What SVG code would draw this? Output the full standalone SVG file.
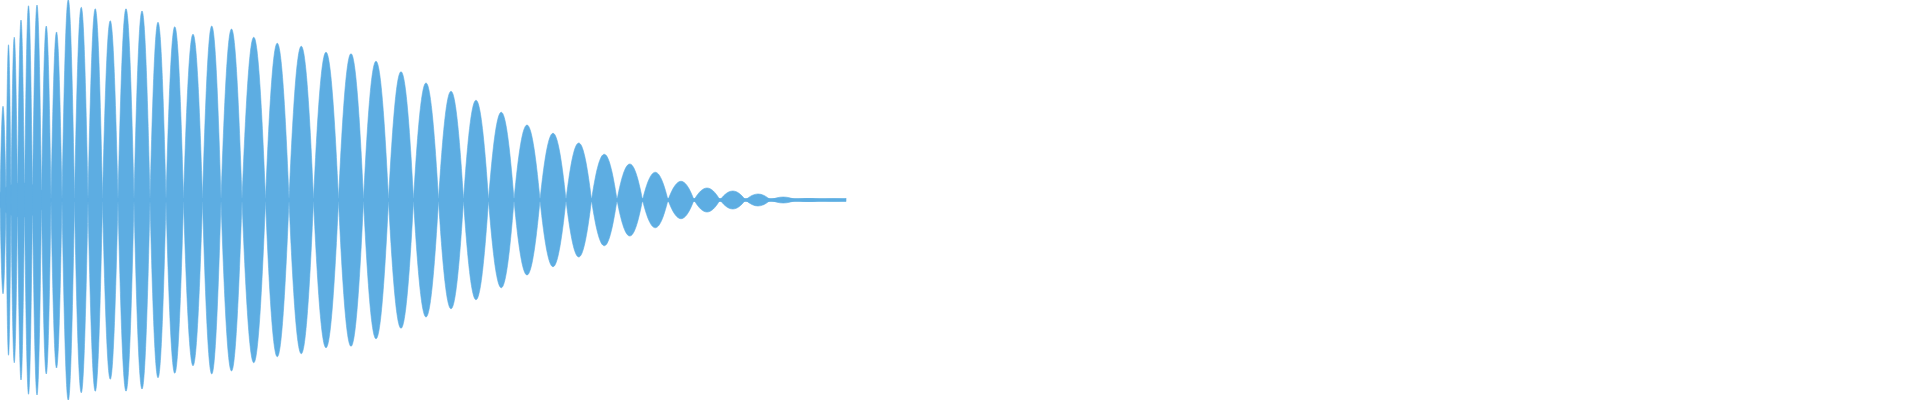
<svg xmlns="http://www.w3.org/2000/svg" width="1920" height="400" viewBox="0 0 1920 400">
<style>.w{fill:#5dade2;stroke:#5dade2;stroke-width:0.6}</style>
<rect width="1920" height="400" fill="#fff"/>
<g id="waveform" class="w">
<ellipse cx="22" cy="200" rx="24" ry="17"/>
<rect x="0" y="198.5" width="846" height="3"/>
<path d="M0 200C2.2 75 3.8 75 6 200C3.8 325 2.2 325 0 200Z"/>
<path d="M6 200C7.8 -7 9.2 -7 11 200C9.2 407 7.8 407 6 200Z"/>
<path d="M11 200C13.3 -17 15.2 -17 17.5 200C15.2 417 13.3 417 11 200Z"/>
<path d="M17.5 200C20 -40 22 -40 24.5 200C22 440 20 440 17.5 200Z"/>
<path d="M24.5 200C27.4 -59 29.6 -59 32.5 200C29.6 459 27.4 459 24.5 200Z"/>
<path d="M32.5 200C35.7 -60 38.3 -60 41.5 200C38.3 460 35.7 460 32.5 200Z"/>
<path d="M41.5 200C44.9 -32 47.6 -32 51 200C47.6 432 44.9 432 41.5 200Z"/>
<path d="M51 200C55 -24 58 -24 62 200C58 424 55 424 51 200Z"/>
<path d="M62 200C66.5 -67 70 -67 74.5 200C70 467 66.5 467 62 200Z"/>
<path d="M74.5 200C79.4 -57 83.1 -57 88 200C83.1 457 79.4 457 74.5 200Z"/>
<path d="M88 200C93.2 -55 97.3 -55 102.5 200C97.3 455 93.2 455 88 200Z"/>
<path d="M102.5 200C108.1 -39 112.4 -39 118 200C112.4 439 108.1 439 102.5 200Z"/>
<path d="M118 200C123.8 -55 128.2 -55 134 200C128.2 455 123.8 455 118 200Z"/>
<path d="M134 200C139.8 -52 144.2 -52 150 200C144.2 452 139.8 452 134 200Z"/>
<path d="M150 200C155.8 -37 160.2 -37 166 200C160.2 437 155.8 437 150 200Z"/>
<path d="M166 200C172.3 -31 177.2 -31 183.5 200C177.2 431 172.3 431 166 200Z"/>
<path d="M183.5 200C190.3 -21 195.7 -21 202.5 200C195.7 421 190.3 421 183.5 200Z"/>
<path d="M202.5 200C209.2 -32 214.3 -32 221 200C214.3 432 209.2 432 202.5 200Z"/>
<path d="M221 200C228.6 -28 234.4 -28 242 200C234.4 428 228.6 428 221 200Z"/>
<path d="M242 200C250.5 -17 257 -17 265.5 200C257 417 250.5 417 242 200Z"/>
<path d="M265.5 200C274 -9 280.5 -9 289 200C280.5 409 274 409 265.5 200Z"/>
<path d="M289 200C297.8 -5 304.7 -5 313.5 200C304.7 405 297.8 405 289 200Z"/>
<path d="M313.5 200C322.5 3 329.5 3 338.5 200C329.5 397 322.5 397 313.5 200Z"/>
<path d="M338.5 200C347.5 5 354.5 5 363.5 200C354.5 395 347.5 395 338.5 200Z"/>
<path d="M363.5 200C372.5 15 379.5 15 388.5 200C379.5 385 372.5 385 363.5 200Z"/>
<path d="M388.5 200C397.5 29 404.5 29 413.5 200C404.5 371 397.5 371 388.5 200Z"/>
<path d="M413.5 200C422.5 44 429.5 44 438.5 200C429.5 356 422.5 356 413.5 200Z"/>
<path d="M438.5 200C447.5 55 454.5 55 463.5 200C454.5 345 447.5 345 438.5 200Z"/>
<path d="M463.5 200C472.5 67 479.5 67 488.5 200C479.5 333 472.5 333 463.5 200Z"/>
<path d="M488.5 200C497.7 83 504.8 83 514 200C504.8 317 497.7 317 488.5 200Z"/>
<path d="M514 200C523.4 100 530.6 100 540 200C530.6 300 523.4 300 514 200Z"/>
<path d="M540 200C549.4 111 556.6 111 566 200C556.6 289 549.4 289 540 200Z"/>
<path d="M566 200C575.2 124 582.3 124 591.5 200C582.3 276 575.2 276 566 200Z"/>
<path d="M591.5 200C600.7 139 607.8 139 617 200C607.8 261 600.7 261 591.5 200Z"/>
<path d="M617 200C626.2 152 633.3 152 642.5 200C633.3 248 626.2 248 617 200Z"/>
<path d="M642.5 200C651.7 163 658.8 163 668 200C658.8 237 651.7 237 642.5 200Z"/>
<path d="M668 200C677.4 175 684.6 175 694 200C684.6 225 677.4 225 668 200Z"/>
<path d="M694 200C703.4 184 710.6 184 720 200C710.6 216 703.4 216 694 200Z"/>
<path d="M720 200C729.2 188 736.3 188 745.5 200C736.3 212 729.2 212 720 200Z"/>
<path d="M745.5 200C754.5 192 761.5 192 770.5 200C761.5 208 754.5 208 745.5 200Z"/>
<path d="M770.5 200C779.7 196 786.8 196 796 200C786.8 204 779.7 204 770.5 200Z"/>
<path d="M796 200C805.2 198 812.3 198 821.5 200C812.3 202 805.2 202 796 200Z"/>
<path d="M821.5 200C830.3 198.7 837.2 198.7 846 200C837.2 201.3 830.3 201.3 821.5 200Z"/>
</g>
</svg>
